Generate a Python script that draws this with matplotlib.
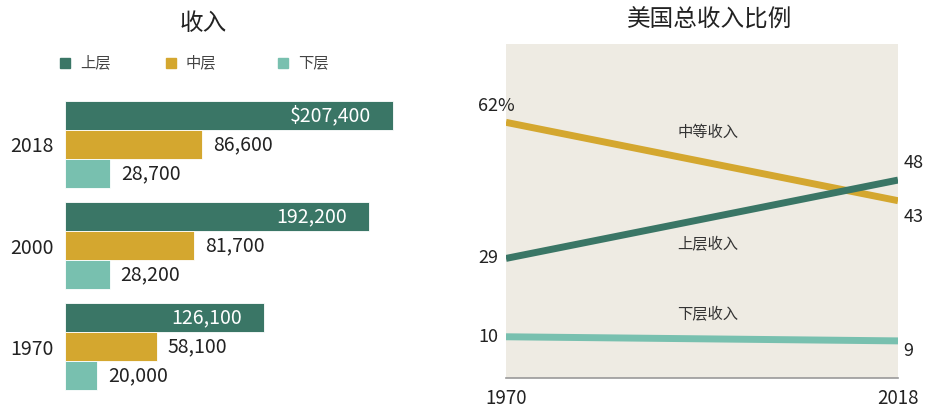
import matplotlib
matplotlib.use("Agg")
import matplotlib.pyplot as plt
from matplotlib.patches import Rectangle

plt.rcParams['font.family'] = ['Noto Sans CJK SC', 'DejaVu Sans']

# === Данные ===
years = ["2018", "2000", "1970"]
tiers = ["上层", "中层", "下层"]
upper_income = [207400, 192200, 126100]
middle_income = [86600, 81700, 58100]
lower_income = [28700, 28200, 20000]

share_years = [1970, 2018]
share_upper = [29, 48]
share_middle = [62, 43]
share_lower = [10, 9]

c_upper = "#3A7666"
c_middle = "#D4A72F"
c_lower = "#78C0AF"
c_text = "#222222"
bg = "#EEEBE3"

W, H = 925, 412
fig = plt.figure(figsize=(W / 100, H / 100), dpi=100)


def box(l, t, r, b):
    return [l / W, 1 - b / H, (r - l) / W, (b - t) / H]


# === Левый график: доходы ===
ax = fig.add_axes(box(65, 95, 460, 396))
bh = 0.287
ypos = range(len(years))
series = [upper_income, middle_income, lower_income]
colors = [c_upper, c_middle, c_lower]
for k, (vals, col) in enumerate(zip(series, colors)):
    ys = [y + (k - 1) * bh for y in ypos]
    ax.barh(ys, vals, height=bh, color=col, edgecolor="white", linewidth=0.6)
    for y, v in zip(ys, vals):
        if k == 0:
            lab = f"${v:,}" if y < 0.5 - bh else f"{v:,}"
            ax.annotate(lab, (v, y), xytext=(-16, 0), textcoords="offset points",
                        ha="right", va="center", color="white", fontsize=14)
        else:
            ax.annotate(f"{v:,}", (v, y), xytext=(8, 0), textcoords="offset points",
                        ha="left", va="center", color=c_text, fontsize=14)

ax.set_xlim(0, 249800)
ax.set_ylim(2.49, -0.49)
ax.set_yticks(list(ypos))
ax.set_yticklabels(years, fontsize=14, color=c_text)
ax.tick_params(axis="y", length=0, pad=8)
ax.set_xticks([])
for s in ax.spines.values():
    s.set_visible(False)

fig.text(203 / W, 1 - 23 / H, "收入", ha="center", va="center", fontsize=17, color=c_text)

# легенда
leg_x = [60, 166, 278]
for x0, name, col in zip(leg_x, tiers, colors):
    fig.add_artist(Rectangle((x0 / W, 1 - 68 / H), 10 / W, 10 / H,
                             transform=fig.transFigure, color=col))
    fig.text((x0 + 20) / W, 1 - 63 / H, name, ha="left", va="center",
             fontsize=11, color="#444444")

# === Правый график: доли ===
ax2 = fig.add_axes(box(506, 44, 898, 378))
ax2.set_facecolor(bg)
lw = 5
ax2.plot(share_years, share_middle, color=c_middle, lw=lw, solid_capstyle="butt")
ax2.plot(share_years, share_upper, color=c_upper, lw=lw, solid_capstyle="butt")
ax2.plot(share_years, share_lower, color=c_lower, lw=lw, solid_capstyle="butt")
ax2.set_xlim(1970, 2018)
ax2.set_ylim(0, 81)
ax2.set_yticks([])
ax2.set_xticks(share_years)
ax2.set_xticklabels([str(y) for y in share_years], fontsize=13.5, color=c_text)
ax2.tick_params(axis="x", length=0, pad=7)
for side in ["top", "left", "right"]:
    ax2.spines[side].set_visible(False)
ax2.spines["bottom"].set_color("#999999")
ax2.spines["bottom"].set_linewidth(1.2)

# подписи концов линий
ends = [(share_middle, 12, -12), (share_upper, 0, 12), (share_lower, 0, -7)]
for vals, dl, dr in ends:
    left_lab = f"{vals[0]}%" if vals is share_middle else str(vals[0])
    ax2.annotate(left_lab, (share_years[0], vals[0]), xytext=(-20, dl),
                 textcoords="offset points", ha="left", va="center",
                 fontsize=13, color=c_text, annotation_clip=False)
    ax2.annotate(str(vals[1]), (share_years[1], vals[1]), xytext=(4, dr),
                 textcoords="offset points", ha="left", va="center",
                 fontsize=13, color=c_text, annotation_clip=False)

ax2.text(1994.7, 59.5, "中等收入", ha="center", va="center", fontsize=11, color="#333333")
ax2.text(1994.7, 32.4, "上层收入", ha="center", va="center", fontsize=11, color="#333333")
ax2.text(1994.7, 15.3, "下层收入", ha="center", va="center", fontsize=11, color="#333333")

fig.text(710 / W, 1 - 20 / H, "美国总收入比例", ha="center", va="center",
         fontsize=17, color=c_text)

fig.savefig("out.png", dpi=100)
